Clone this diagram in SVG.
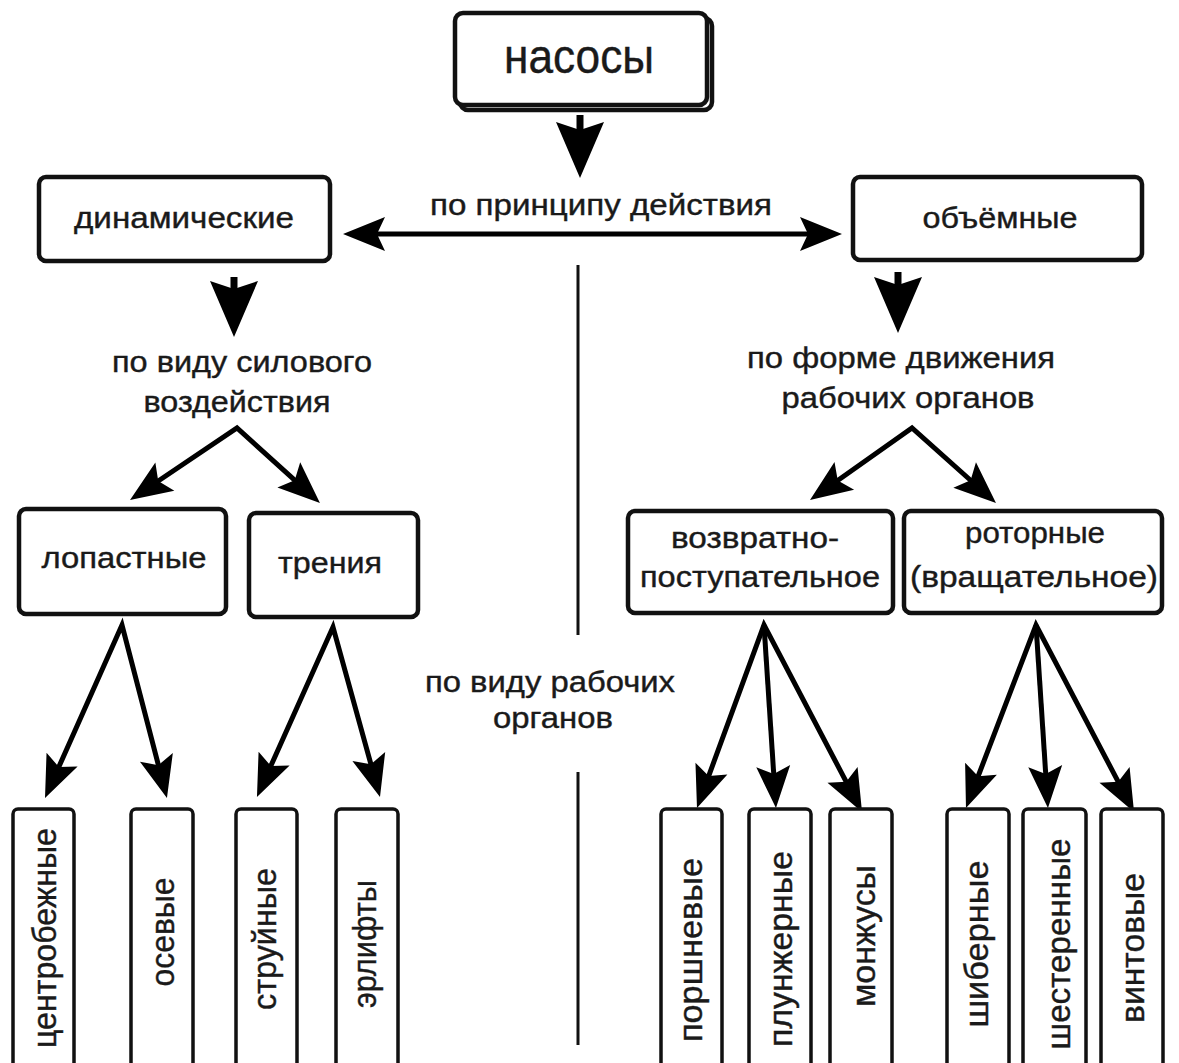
<svg xmlns="http://www.w3.org/2000/svg" width="1179" height="1063" viewBox="0 0 1179 1063">
<style>
.box{fill:#fff;stroke:#111;stroke-width:4.5}
.sbox{fill:#fff;stroke:#111;stroke-width:3.5}
.t{font-family:"Liberation Sans",Arial,sans-serif;font-size:30px;fill:#1a1a1a;stroke:#1a1a1a;stroke-width:0.4;text-anchor:middle}
.tv{font-family:"Liberation Sans",Arial,sans-serif;font-size:33px;fill:#1a1a1a;stroke:#1a1a1a;stroke-width:0.4;text-anchor:middle}
.c{stroke:#000;stroke-width:5;fill:none}
.big{stroke:#000;stroke-width:7;fill:none}
.div{stroke:#111;stroke-width:3}
</style>
<defs>
<marker id="ah" viewBox="-14 -18 46 36" markerWidth="46" markerHeight="36" refX="0" refY="0" orient="auto-start-reverse" markerUnits="userSpaceOnUse">
<path d="M30,0 L-12,-17 L-4,0 L-12,17 Z" fill="#000"/>
</marker>
<marker id="bh" viewBox="-18 -26 60 52" markerWidth="60" markerHeight="52" refX="0" refY="0" orient="auto" markerUnits="userSpaceOnUse">
<path d="M40,0 L-16,-24 L-8,0 L-16,24 Z" fill="#000"/>
</marker>
</defs>
<rect width="1179" height="1063" fill="#fff"/>

<g id="connectors">
<line class="big" x1="580" y1="115" x2="580" y2="138" marker-end="url(#bh)"/>
<line class="c" x1="373" y1="234" x2="812" y2="234" marker-start="url(#ah)" marker-end="url(#ah)"/>
<line class="big" x1="234" y1="277" x2="234" y2="297" marker-end="url(#bh)"/>
<line class="big" x1="898" y1="272" x2="898" y2="293" marker-end="url(#bh)"/>
<polyline class="c" points="154.9,483.3 237,428 297.7,482.9" marker-start="url(#ah)" marker-end="url(#ah)"/>
<polyline class="c" points="834.5,482.7 912,428 973.6,483" marker-start="url(#ah)" marker-end="url(#ah)"/>
<polyline class="c" points="57.2,770.6 122,625 159.4,769" marker-start="url(#ah)" marker-end="url(#ah)"/>
<polyline class="c" points="269.2,769.6 333,627 372,768.1" marker-start="url(#ah)" marker-end="url(#ah)"/>
<polyline class="c" points="707.3,779.8 764,625 848.1,785.4" marker-start="url(#ah)" marker-end="url(#ah)"/>
<line class="c" x1="764" y1="625" x2="774" y2="778.1" marker-end="url(#ah)"/>
<polyline class="c" points="976.7,780 1036,625 1120.1,785.4" marker-start="url(#ah)" marker-end="url(#ah)"/>
<line class="c" x1="1036" y1="625" x2="1046" y2="778.1" marker-end="url(#ah)"/>
<line class="div" x1="578" y1="265" x2="578" y2="635"/>
<line class="div" x1="578" y1="772" x2="578" y2="1045"/>
</g>

<g id="n-nasosy">
<rect class="box" x="460" y="18" width="252" height="92" rx="8"/>
<rect class="box" x="455" y="13" width="252" height="92" rx="8"/>
<text class="t" x="579" y="73" style="font-size:48px" textLength="150" lengthAdjust="spacingAndGlyphs">насосы</text>
</g>
<g id="lbl-principle"><text class="t" x="601" y="215" textLength="342" lengthAdjust="spacingAndGlyphs">по принципу действия</text></g>
<g id="n-dyn">
<rect class="box" x="39" y="177" width="291" height="84" rx="7"/>
<text class="t" x="184" y="228" textLength="220" lengthAdjust="spacingAndGlyphs">динамические</text>
</g>
<g id="n-vol">
<rect class="box" x="853" y="177" width="289" height="83" rx="7"/>
<text class="t" x="1000" y="228" textLength="155" lengthAdjust="spacingAndGlyphs">объёмные</text>
</g>
<g id="lbl-force">
<text class="t" x="242" y="372" textLength="260" lengthAdjust="spacingAndGlyphs">по виду силового</text>
<text class="t" x="237" y="412" textLength="187" lengthAdjust="spacingAndGlyphs">воздействия</text>
</g>
<g id="lbl-motion">
<text class="t" x="901" y="368" textLength="308" lengthAdjust="spacingAndGlyphs">по форме движения</text>
<text class="t" x="908" y="408" textLength="253" lengthAdjust="spacingAndGlyphs">рабочих органов</text>
</g>
<g id="n-lop">
<rect class="box" x="19" y="509" width="207" height="105" rx="7"/>
<text class="t" x="124" y="568" textLength="165" lengthAdjust="spacingAndGlyphs">лопастные</text>
</g>
<g id="n-tren">
<rect class="box" x="249" y="513" width="169" height="104" rx="7"/>
<text class="t" x="330" y="573" textLength="104" lengthAdjust="spacingAndGlyphs">трения</text>
</g>
<g id="n-vozv">
<rect class="box" x="628" y="511" width="265" height="102" rx="7"/>
<text class="t" x="755" y="548" textLength="168" lengthAdjust="spacingAndGlyphs">возвратно-</text>
<text class="t" x="760" y="587" textLength="240" lengthAdjust="spacingAndGlyphs">поступательное</text>
</g>
<g id="n-rot">
<rect class="box" x="904" y="511" width="258" height="102" rx="7"/>
<text class="t" x="1035" y="543" textLength="140" lengthAdjust="spacingAndGlyphs">роторные</text>
<text class="t" x="1034" y="587" textLength="248" lengthAdjust="spacingAndGlyphs">(вращательное)</text>
</g>
<g id="lbl-organs">
<text class="t" x="550" y="692" textLength="250" lengthAdjust="spacingAndGlyphs">по виду рабочих</text>
<text class="t" x="553" y="728" textLength="120" lengthAdjust="spacingAndGlyphs">органов</text>
</g>

<g id="n-centr"><rect class="sbox" x="13" y="809" width="61" height="270" rx="5"/>
<text class="tv" transform="translate(56,938) rotate(-90)" textLength="220" lengthAdjust="spacingAndGlyphs">центробежные</text></g>
<g id="n-osev"><rect class="sbox" x="131" y="809" width="62" height="270" rx="5"/>
<text class="tv" transform="translate(174,932) rotate(-90)" textLength="109" lengthAdjust="spacingAndGlyphs">осевые</text></g>
<g id="n-struy"><rect class="sbox" x="236" y="809" width="61" height="270" rx="5"/>
<text class="tv" transform="translate(276,939) rotate(-90)" textLength="142" lengthAdjust="spacingAndGlyphs">струйные</text></g>
<g id="n-erl"><rect class="sbox" x="336" y="809" width="62" height="270" rx="5"/>
<text class="tv" transform="translate(376,944) rotate(-90)" textLength="128" lengthAdjust="spacingAndGlyphs">эрлифты</text></g>
<g id="n-porsh"><rect class="sbox" x="661" y="809" width="61" height="270" rx="5"/>
<text class="tv" transform="translate(702,950) rotate(-90)" textLength="184" lengthAdjust="spacingAndGlyphs">поршневые</text></g>
<g id="n-plunzh"><rect class="sbox" x="749" y="809" width="62" height="270" rx="5"/>
<text class="tv" transform="translate(792,949) rotate(-90)" textLength="196" lengthAdjust="spacingAndGlyphs">плунжерные</text></g>
<g id="n-monzh"><rect class="sbox" x="830" y="809" width="62" height="270" rx="5"/>
<text class="tv" transform="translate(875,936) rotate(-90)" textLength="142" lengthAdjust="spacingAndGlyphs">монжусы</text></g>
<g id="n-shib"><rect class="sbox" x="947" y="809" width="62" height="270" rx="5"/>
<text class="tv" transform="translate(988,944) rotate(-90)" textLength="167" lengthAdjust="spacingAndGlyphs">шиберные</text></g>
<g id="n-shest"><rect class="sbox" x="1023" y="809" width="63" height="270" rx="5"/>
<text class="tv" transform="translate(1070,944) rotate(-90)" textLength="211" lengthAdjust="spacingAndGlyphs">шестеренные</text></g>
<g id="n-vint"><rect class="sbox" x="1101" y="809" width="62" height="270" rx="5"/>
<text class="tv" transform="translate(1144,948) rotate(-90)" textLength="150" lengthAdjust="spacingAndGlyphs">винтовые</text></g>
</svg>
